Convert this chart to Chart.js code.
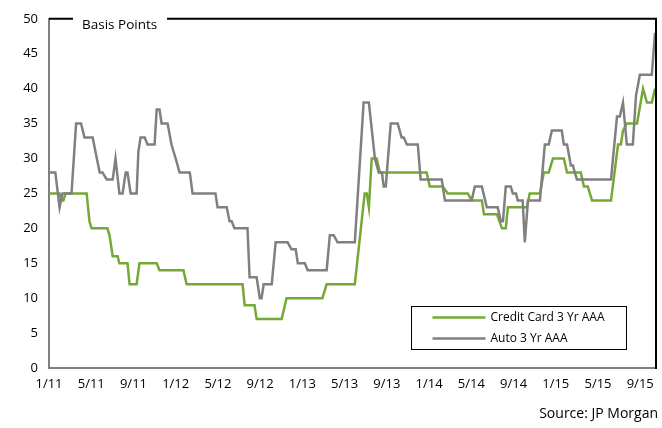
<!DOCTYPE html>
<html>
<head>
<meta charset="utf-8">
<script src="https://cdn.jsdelivr.net/npm/chart.js@4/dist/chart.umd.min.js"></script>
<style>
  html, body { margin: 0; padding: 0; background: #fff; }
  #wrap { position: relative; width: 662px; height: 428px; }
</style>
</head>
<body>
<div id="wrap"><canvas id="c" width="662" height="428"></canvas></div>
<script>
// ---- Data ----
const tickLabels = ['1/11','5/11','9/11','1/12','5/12','9/12','1/13','5/13','9/13','1/14','5/14','9/14','1/15','5/15','9/15'];

const seriesNames = ['Credit Card 3 Yr AAA', 'Auto 3 Yr AAA'];

const creditDates = [
  '2011-01-02','2011-01-31','2011-02-07','2011-02-12','2011-02-18','2011-04-18','2011-04-26','2011-05-02',
  '2011-06-17','2011-06-23','2011-07-02','2011-07-16','2011-07-21','2011-08-14','2011-08-20','2011-09-10',
  '2011-09-18','2011-11-07','2011-11-15','2012-01-23','2012-02-02','2012-07-11','2012-07-17','2012-08-15',
  '2012-08-21','2012-11-02','2012-11-16','2013-02-28','2013-03-10','2013-05-30','2013-06-28','2013-07-04',
  '2013-07-10','2013-07-18','2013-08-02','2013-08-11','2013-12-24','2014-01-03','2014-02-10','2014-02-24',
  '2014-04-21','2014-05-02','2014-05-31','2014-06-07','2014-07-14','2014-07-28','2014-08-09','2014-08-15',
  '2014-10-09','2014-10-17','2014-11-16','2014-11-27','2014-12-11','2014-12-23','2015-01-24','2015-02-03',
  '2015-03-12','2015-03-21','2015-04-02','2015-04-14','2015-06-08','2015-06-28','2015-07-06','2015-07-12',
  '2015-07-23','2015-08-22','2015-09-09','2015-09-20','2015-10-04','2015-10-13'
];
const creditValues = [
  25,25,24,24,25,25,21,20,
  20,19,16,16,15,15,12,12,
  15,15,14,14,12,12,9,9,
  7,7,10,10,12,12,25,25,
  23,30,30,28,28,26,26,25,
  25,24,24,22,22,20,20,23,
  23,25,25,28,28,30,30,28,
  28,26,26,24,24,32,32,34,
  35,35,40,38,38,40
];

const autoDates = [
  '2011-01-02','2011-01-19','2011-01-31','2011-02-09','2011-02-21','2011-03-05','2011-03-18','2011-04-02',
  '2011-04-12','2011-05-05','2011-05-25','2011-06-03','2011-06-15','2011-07-02','2011-07-10','2011-07-21',
  '2011-07-30','2011-08-09','2011-08-14','2011-08-23','2011-09-10','2011-09-15','2011-09-21','2011-10-03',
  '2011-10-11','2011-11-01','2011-11-07','2011-11-15','2011-11-21','2011-12-08','2011-12-19','2011-12-31',
  '2012-01-12','2012-02-11','2012-02-19','2012-04-24','2012-04-30','2012-05-26','2012-06-04','2012-06-10',
  '2012-06-18','2012-07-25','2012-08-01','2012-08-21','2012-08-30','2012-09-05','2012-09-11','2012-10-04',
  '2012-10-15','2012-11-19','2012-11-30','2012-12-12','2012-12-18','2013-01-08','2013-01-16','2013-03-10',
  '2013-03-19','2013-03-30','2013-04-11','2013-05-30','2013-06-25','2013-07-10','2013-07-27','2013-08-08',
  '2013-08-17','2013-08-22','2013-08-28','2013-09-12','2013-10-02','2013-10-13','2013-10-19','2013-10-28',
  '2013-11-29','2013-12-07','2014-02-07','2014-02-16','2014-05-02','2014-05-11','2014-05-31','2014-06-15',
  '2014-07-16','2014-07-25','2014-07-31','2014-08-09','2014-08-23','2014-08-29','2014-09-08','2014-09-13',
  '2014-09-27','2014-10-03','2014-10-12','2014-11-16','2014-11-30','2014-12-11','2014-12-20','2015-01-18',
  '2015-01-24','2015-02-03','2015-02-14','2015-02-20','2015-02-25','2015-03-01','2015-06-08','2015-06-25',
  '2015-07-03','2015-07-12','2015-07-23','2015-08-10','2015-08-19','2015-08-30','2015-10-04','2015-10-13'
];
const autoValues = [
  28,28,23,25,25,25,35,35,
  33,33,28,28,27,27,30,25,
  25,28,28,25,25,31,33,33,
  32,32,37,37,35,35,32,30,
  28,28,25,25,23,23,21,21,
  20,20,13,13,10,10,12,12,
  18,18,17,17,15,15,14,14,
  19,19,18,18,38,38,30,28,
  28,26,26,35,35,33,33,32,
  32,27,27,24,24,26,26,23,
  23,21,21,26,26,25,25,24,
  24,18,24,24,32,32,34,34,
  32,32,29,29,28,27,27,36,
  36,38,32,32,39,42,42,48
];

// ---- Helpers ----
function toMonth(s) {
  const [y, m, d] = s.split('-').map(Number);
  return (y - 2011) * 12 + (m - 1) + (d - 1) / 30;
}
function toPoints(dates, values) {
  return dates.map((d, i) => ({ x: toMonth(d), y: values[i] }));
}

const GREEN = '#76A836';
const GRAY = '#808080';
const FONT = "'Open Sans', 'Liberation Sans', sans-serif";

const decorPlugin = {
  id: 'decor',
  afterDraw(chart) {
    const ctx = chart.ctx;
    const a = chart.chartArea;
    ctx.save();
    // top and right frame (black)
    ctx.strokeStyle = '#000';
    ctx.lineWidth = 2;
    ctx.beginPath();
    ctx.moveTo(a.left, a.top);
    ctx.lineTo(a.left + 24, a.top);
    ctx.moveTo(a.left + 118, a.top);
    ctx.lineTo(a.right + 1, a.top);
    ctx.moveTo(a.right + 1, a.top - 1);
    ctx.lineTo(a.right + 1, a.bottom + 1);
    ctx.stroke();
    // axis title
    ctx.fillStyle = '#000';
    ctx.font = '13.5px ' + FONT;
    ctx.textAlign = 'left';
    ctx.textBaseline = 'alphabetic';
    ctx.fillText('Basis Points', a.left + 33, a.top + 10);
    // legend box
    const lx = 411.5, ly = 306.5, lw = 215, lh = 43;
    ctx.lineWidth = 1;
    ctx.strokeStyle = '#000';
    ctx.fillStyle = '#fff';
    ctx.fillRect(lx, ly, lw, lh);
    ctx.strokeRect(lx, ly, lw, lh);
    const ds = chart.data.datasets;
    const rowsY = [ly + 11, ly + 32];
    ds.forEach((d, i) => {
      ctx.strokeStyle = d.borderColor;
      ctx.lineWidth = 2.5;
      ctx.beginPath();
      ctx.moveTo(lx + 21, rowsY[i]);
      ctx.lineTo(lx + 74, rowsY[i]);
      ctx.stroke();
      ctx.fillStyle = '#000';
      ctx.font = '12px ' + FONT;
      ctx.textBaseline = 'middle';
      ctx.fillText(d.label, lx + 79, rowsY[i] + 0.5);
    });
    // source
    ctx.font = '14px ' + FONT;
    ctx.textAlign = 'right';
    ctx.textBaseline = 'middle';
    ctx.fillText('Source: JP Morgan', 658, 414);
    ctx.restore();
  }
};

new Chart(document.getElementById('c'), {
  type: 'line',
  data: {
    datasets: [
      { label: seriesNames[0], data: toPoints(creditDates, creditValues), borderColor: GREEN, borderWidth: 2.5, pointRadius: 0, tension: 0, fill: false, order: 1 },
      { label: seriesNames[1], data: toPoints(autoDates, autoValues), borderColor: GRAY, borderWidth: 2.5, pointRadius: 0, tension: 0, fill: false, order: 0 }
    ]
  },
  options: {
    responsive: false,
    animation: false,
    devicePixelRatio: 1,
    layout: { padding: { top: 12, right: 7, left: 0, bottom: 0 } },
    plugins: { legend: { display: false }, tooltip: { enabled: false } },
    scales: {
      x: {
        type: 'linear',
        min: 0,
        max: 57.4,
        afterFit(s) { s.height = 60; },
        afterBuildTicks(s) { s.ticks = tickLabels.map((_, i) => ({ value: i * 4 })); },
        grid: { display: false, drawTicks: false },
        border: { display: true, color: GRAY, width: 2 },
        ticks: {
          autoSkip: false, maxRotation: 0, minRotation: 0, padding: 8,
          color: '#000', font: { family: FONT, size: 13 },
          callback(v) { return tickLabels[Math.round(v / 4)]; }
        }
      },
      y: {
        min: 0,
        max: 50,
        afterFit(s) { s.width = 49; },
        grid: { display: false, drawTicks: false },
        border: { display: true, color: GRAY, width: 2 },
        ticks: { stepSize: 5, padding: 11, color: '#000', font: { family: FONT, size: 13 } }
      }
    }
  },
  plugins: [decorPlugin]
});
</script>
</body>
</html>
